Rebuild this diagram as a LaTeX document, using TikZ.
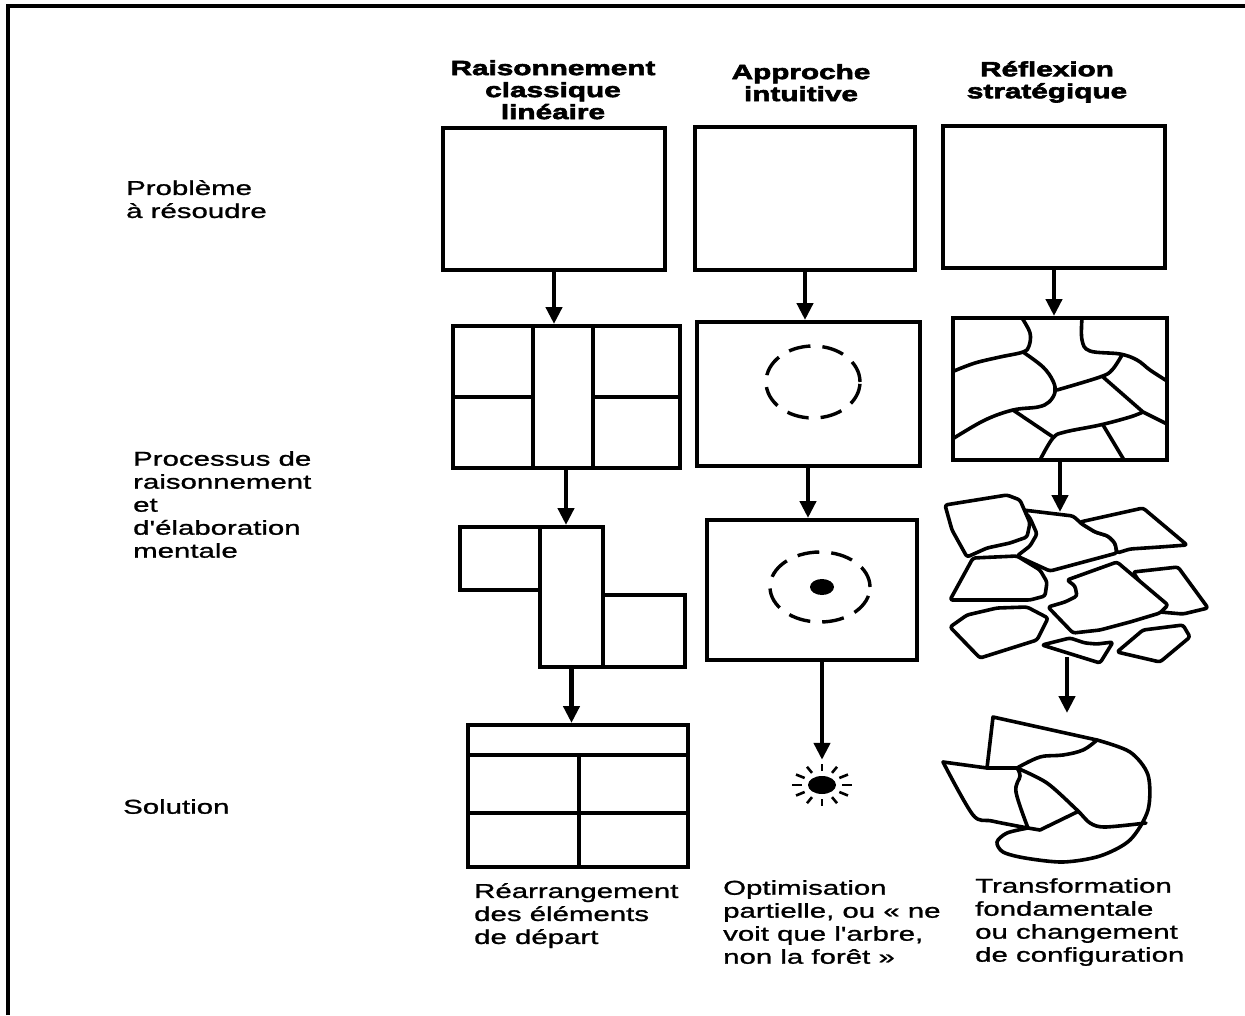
\documentclass[tikz,border=0pt]{standalone}
\usepackage{fontspec}
\usetikzlibrary{arrows.meta}
\newfontfamily\labfont[FakeStretch=1.47,FakeBold=1.2]{Liberation Sans}
\newfontfamily\hdrfont[FakeStretch=1.45,BoldFeatures={FakeBold=3}]{Liberation Sans}
\begin{document}
\begin{tikzpicture}[x=1pt,y=-1pt,
  box/.style={draw, line width=4pt, inner sep=0pt},
  arr/.style={line width=4.5pt, -{Triangle[length=17pt,width=16pt]}},
  ln/.style={line width=3.6pt, line join=round, line cap=round},
  piece/.style={ln, fill=white, rounded corners=2.5pt},
  dsh/.style={line width=3.4pt, dash pattern=on 22pt off 12pt},
  lab/.style={anchor=north west, inner sep=0pt, align=left, font=\labfont\fontsize{20}{23}\selectfont},
  hdr/.style={anchor=north, inner sep=0pt, align=center, font=\hdrfont\bfseries\fontsize{20.5}{22}\selectfont}]
\useasboundingbox (0,0) rectangle (1245,1015);
\fill[white] (0,0) rectangle (1245,1015);
% frame
\draw[line width=3.5pt] (8,1015) -- (8,6) -- (1245,6);

% headers
\node[hdr] (h1) at (553,60) {Raisonnement\\classique\\linéaire};
\node[hdr] (h2) at (801,64) {Approche\\intuitive};
\node[hdr] (h3) at (1047,61) {Réflexion\\stratégique};

% left labels
\node[lab] (l1) at (126,180) {Problème\\à résoudre};
\node[lab] (l2) at (133,451) {Processus de\\raisonnement\\et\\d'élaboration\\mentale};
\node[lab] (l3) at (123,799) {Solution};

% bottom captions
\node[lab] (c1) at (474,883) {Réarrangement\\des éléments\\de départ};
\node[lab] (c2) at (723,880) {Optimisation\\partielle, ou «~ne\\voit que l'arbre,\\non la forêt~»};
\node[lab] (c3) at (975,878) {Transformation\\fondamentale\\ou changement\\de configuration};

% row 1
\node[box, minimum width=222pt, minimum height=142pt] (b11) at (554,199) {};
\node[box, minimum width=220pt, minimum height=143pt] (b21) at (805,198) {};
\node[box, minimum width=222pt, minimum height=142pt] (b31) at (1054,197) {};

% row 2
\node[box, minimum width=227pt, minimum height=142pt] (b12) at (566,397) {};
\draw[ln] (533,326) -- (533,468) (593,326) -- (593,468)
          (453,397) -- (533,397) (593,397) -- (680,397);
\node[box, minimum width=223pt, minimum height=144pt] (b22) at (808,394) {};
\draw[dsh] (813,382) ellipse [x radius=47pt, y radius=36pt];
\node[box, minimum width=214pt, minimum height=142pt] (b32) at (1060,389) {};
\draw[ln] plot[smooth, tension=0.6] coordinates {(1022,318) (1030,333) (1029,346) (1023,352) (1000,357) (975,363) (954,371)};
\draw[ln] plot[smooth, tension=0.6] coordinates {(1023,352) (1043,367) (1053,381) (1055,392) (1049,402) (1038,407) (1013,410) (985,420) (954,438)};
\draw[ln] plot[smooth, tension=0.6] coordinates {(1082,318) (1082,340) (1090,351) (1120,354) (1137,360) (1150,370) (1167,381)};
\draw[ln] plot[smooth, tension=0.6] coordinates {(1122,355) (1112,370) (1100,377) (1057,390)};
\draw[ln] (1103,377) -- (1143,412) -- (1167,424);
\draw[ln] (1013,410) -- (1053,437);
\draw[ln] plot[smooth, tension=0.6] coordinates {(1143,412) (1130,417) (1100,425) (1065,432) (1053,438) (1040,460)};
\draw[ln] (1103,425) -- (1124,460);

% row 3
\node[box, minimum width=80pt, minimum height=63pt] (b13l) at (500,558.5) {};
\node[box, minimum width=82pt, minimum height=72pt] (b13r) at (644,631) {};
\node[box, minimum width=63pt, minimum height=140pt] (b13) at (571.5,597) {};
\node[box, minimum width=210pt, minimum height=140pt] (b23) at (812,590) {};
\draw[dsh] (820,587) ellipse [x radius=50pt, y radius=35pt];
\fill (822,587) ellipse [x radius=12pt, y radius=8pt];
\coordinate (c33t) at (1060,512);
\coordinate (c33b) at (1067,657);
\draw[piece] (1023,510) -- (1073,516) -- (1082,524) -- (1095,532) -- (1108,536) -- (1115,543) -- (1117,553) -- (1050,571) -- (1017,556) -- (1030,546) -- (1037,534) -- (1030,518) -- cycle;
\draw[piece] (1080,522) -- (1143,508) -- (1187,545) -- (1160,547) -- (1130,549) -- (1117,553) -- (1115,543) -- (1108,536) -- (1095,532) -- (1082,524) -- cycle;
\draw[piece] (945,505) -- (1007,495) -- (1020,500) -- (1030,523) -- (1027,537) -- (1010,543) -- (987,548) -- (967,557) -- (952,530) -- cycle;
\draw[piece] (973,558) -- (1017,556) -- (1040,570) -- (1047,582) -- (1045,596) -- (1030,600) -- (950,600) -- cycle;
\draw[piece] (1133,572) -- (1178,567) -- (1208,608) -- (1183,614) -- (1160,612) -- cycle;
\draw[piece] (1067,580) -- (1117,562) -- (1168,605) -- (1160,613) -- (1130,622) -- (1100,630) -- (1073,633) -- (1048,607) -- (1065,602) -- (1077,596) -- (1075,586) -- cycle;
\draw[piece] (950,627) -- (967,615) -- (997,608) -- (1027,607) -- (1048,618) -- (1037,640) -- (980,658) -- cycle;
\draw[piece] (1143,630) -- (1183,625) -- (1190,637) -- (1160,662) -- (1117,652) -- cycle;
\draw[piece] (1042,645) -- (1070,638) -- (1085,643) -- (1097,644) -- (1113,642) -- (1100,663) -- cycle;

% row 4
\node[box, minimum width=220pt, minimum height=142pt] (b14) at (578,796) {};
\draw[ln] (468,755) -- (688,755) (468,813) -- (688,813) (579,755) -- (579,867);
\node[minimum width=30pt, minimum height=50pt, inner sep=0pt] (s24) at (822,785) {};
\fill (s24.center) ellipse [x radius=14pt, y radius=9pt];
\foreach \a in {0,30,...,330}
  \draw[line width=2.6pt, shift={(s24.center)}] (\a:20 and 14) -- (\a:30 and 21);
\coordinate (c34t) at (1067,713);
\draw[ln] plot[smooth, tension=0.5] coordinates {(1097,740) (1130,752) (1148,775) (1148,810) (1130,840) (1100,856) (1063,862) (1025,858) (1003,852) (997,842) (1007,833) (1028,828)};
\draw[ln] (987,768) -- (993,717) -- (1097,740);
\draw[ln] plot[smooth, tension=0.6] coordinates {(1097,740) (1083,750) (1063,755) (1040,757) (1017,768)};
\draw[ln] (943,762) -- (987,768) -- (1017,768);
\draw[ln] plot[smooth, tension=0.6] coordinates {(1017,768) (1020,776) (1016,792) (1028,828)};
\draw[ln] plot[smooth, tension=0.5] coordinates {(943,762) (973,815) (992,821) (1028,828)};
\draw[ln] plot[smooth, tension=0.5] coordinates {(1017,768) (1047,783) (1077,810) (1090,823) (1105,827) (1146,823)};
\draw[ln] (1077,812) -- (1040,830) -- (1028,828);

% arrows
\draw[arr] (b11.south) -- (b11.south |- b12.north);
\draw[arr] (b21.south) -- (b21.south |- b22.north);
\draw[arr] (b31.south) -- (b31.south |- b32.north);
\draw[arr] (b12.south) -- (b12.south |- b13.north);
\draw[arr] (b22.south) -- (b22.south |- b23.north);
\draw[arr] (b32.south) -- (b32.south |- c33t);
\draw[arr] (b13.south) -- (b13.south |- b14.north);
\draw[arr] (s24 |- b23.south) -- (s24.north);
\draw[arr] (c33b) -- (c34t);
\end{tikzpicture}
\end{document}
